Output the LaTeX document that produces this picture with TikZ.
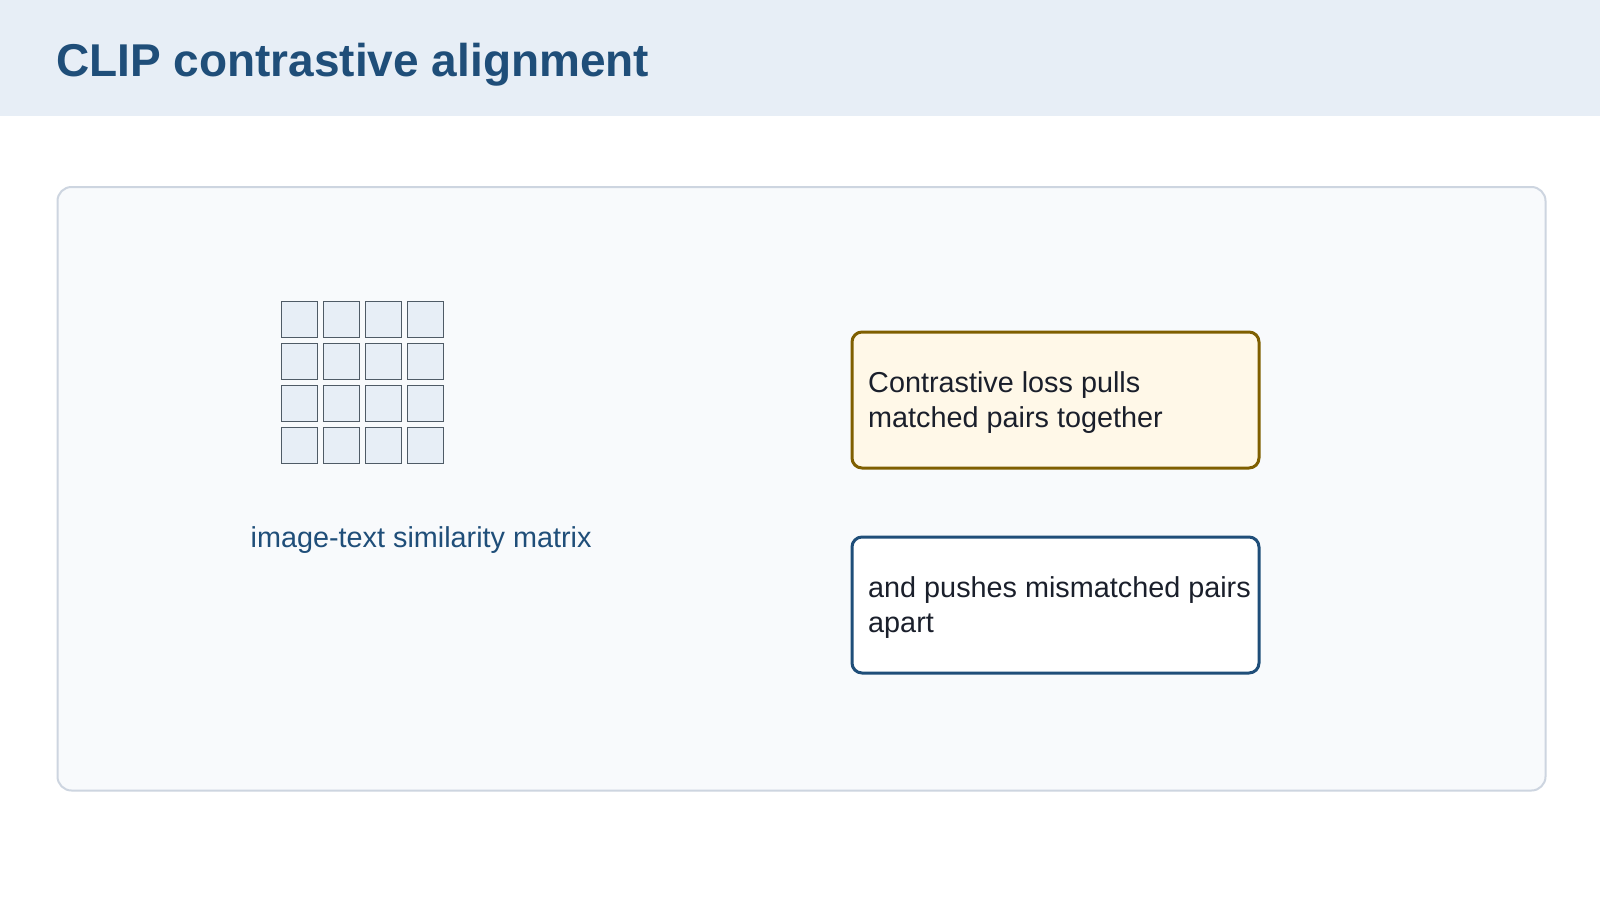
\documentclass[tikz,border=0pt]{standalone}
\usepackage{fontspec}
\setmainfont{Liberation Sans}
\definecolor{headerbg}{HTML}{E7EEF6}
\definecolor{titleblue}{HTML}{1F4E79}
\definecolor{panelfill}{HTML}{F8FAFC}
\definecolor{panelline}{HTML}{CDD5E0}
\definecolor{cellfill}{HTML}{E7EEF6}
\definecolor{cellline}{HTML}{4F5B66}
\definecolor{goldfill}{HTML}{FFF8E8}
\definecolor{goldline}{HTML}{7F5F00}
\definecolor{ink}{HTML}{1A1F2B}
\begin{document}
\begin{tikzpicture}[x=1pt,y=-1pt,
  cell/.style={draw=cellline, fill=cellfill, line width=1pt, minimum size=36pt, inner sep=0pt, anchor=north west},
  cardbox/.style={rounded corners=10pt, line width=3pt, minimum width=407pt, minimum height=136pt, inner sep=0pt, anchor=north west},
  bodytext/.style={anchor=base west, inner sep=0pt, text=ink, font=\fontsize{28.8}{35}\selectfont},
]
\useasboundingbox (0,0) rectangle (1600,900);
\fill[white] (0,0) rectangle (1600,900);
\node[fill=headerbg, minimum width=1600pt, minimum height=116pt, anchor=north west, inner sep=0pt, outer sep=0pt] (header) at (0,0) {};
\node[anchor=base west, inner sep=0pt, text=titleblue, font=\bfseries\fontsize{46}{55}\selectfont] (title) at (56,76) {CLIP contrastive alignment};
\node[draw=panelline, fill=panelfill, line width=2pt, rounded corners=14pt, minimum width=1488pt, minimum height=603.5pt, anchor=north west, inner sep=0pt] (panel) at (56.5,186) {};
\foreach \r in {0,...,3}
  \foreach \c in {0,...,3}
    \node[cell] (cell-\r-\c) at ({280.5+42*\c},{300.5+42*\r}) {};
\node[anchor=base west, inner sep=0pt, text=titleblue, font=\fontsize{28.8}{35}\selectfont] (matrixlabel) at (250.5,547) {image-text similarity matrix};
\node[cardbox, draw=goldline, fill=goldfill] (pull) at (850.5,330.5) {};
\node[bodytext] (pull-l1) at (868,392.5) {Contrastive loss pulls};
\node[bodytext] (pull-l2) at (868,427.5) {matched pairs together};
\node[cardbox, draw=titleblue, fill=white] (push) at (850.5,535.5) {};
\node[bodytext] (push-l1) at (868,597.5) {and pushes mismatched pairs};
\node[bodytext] (push-l2) at (868,632) {apart};
\end{tikzpicture}
\end{document}
